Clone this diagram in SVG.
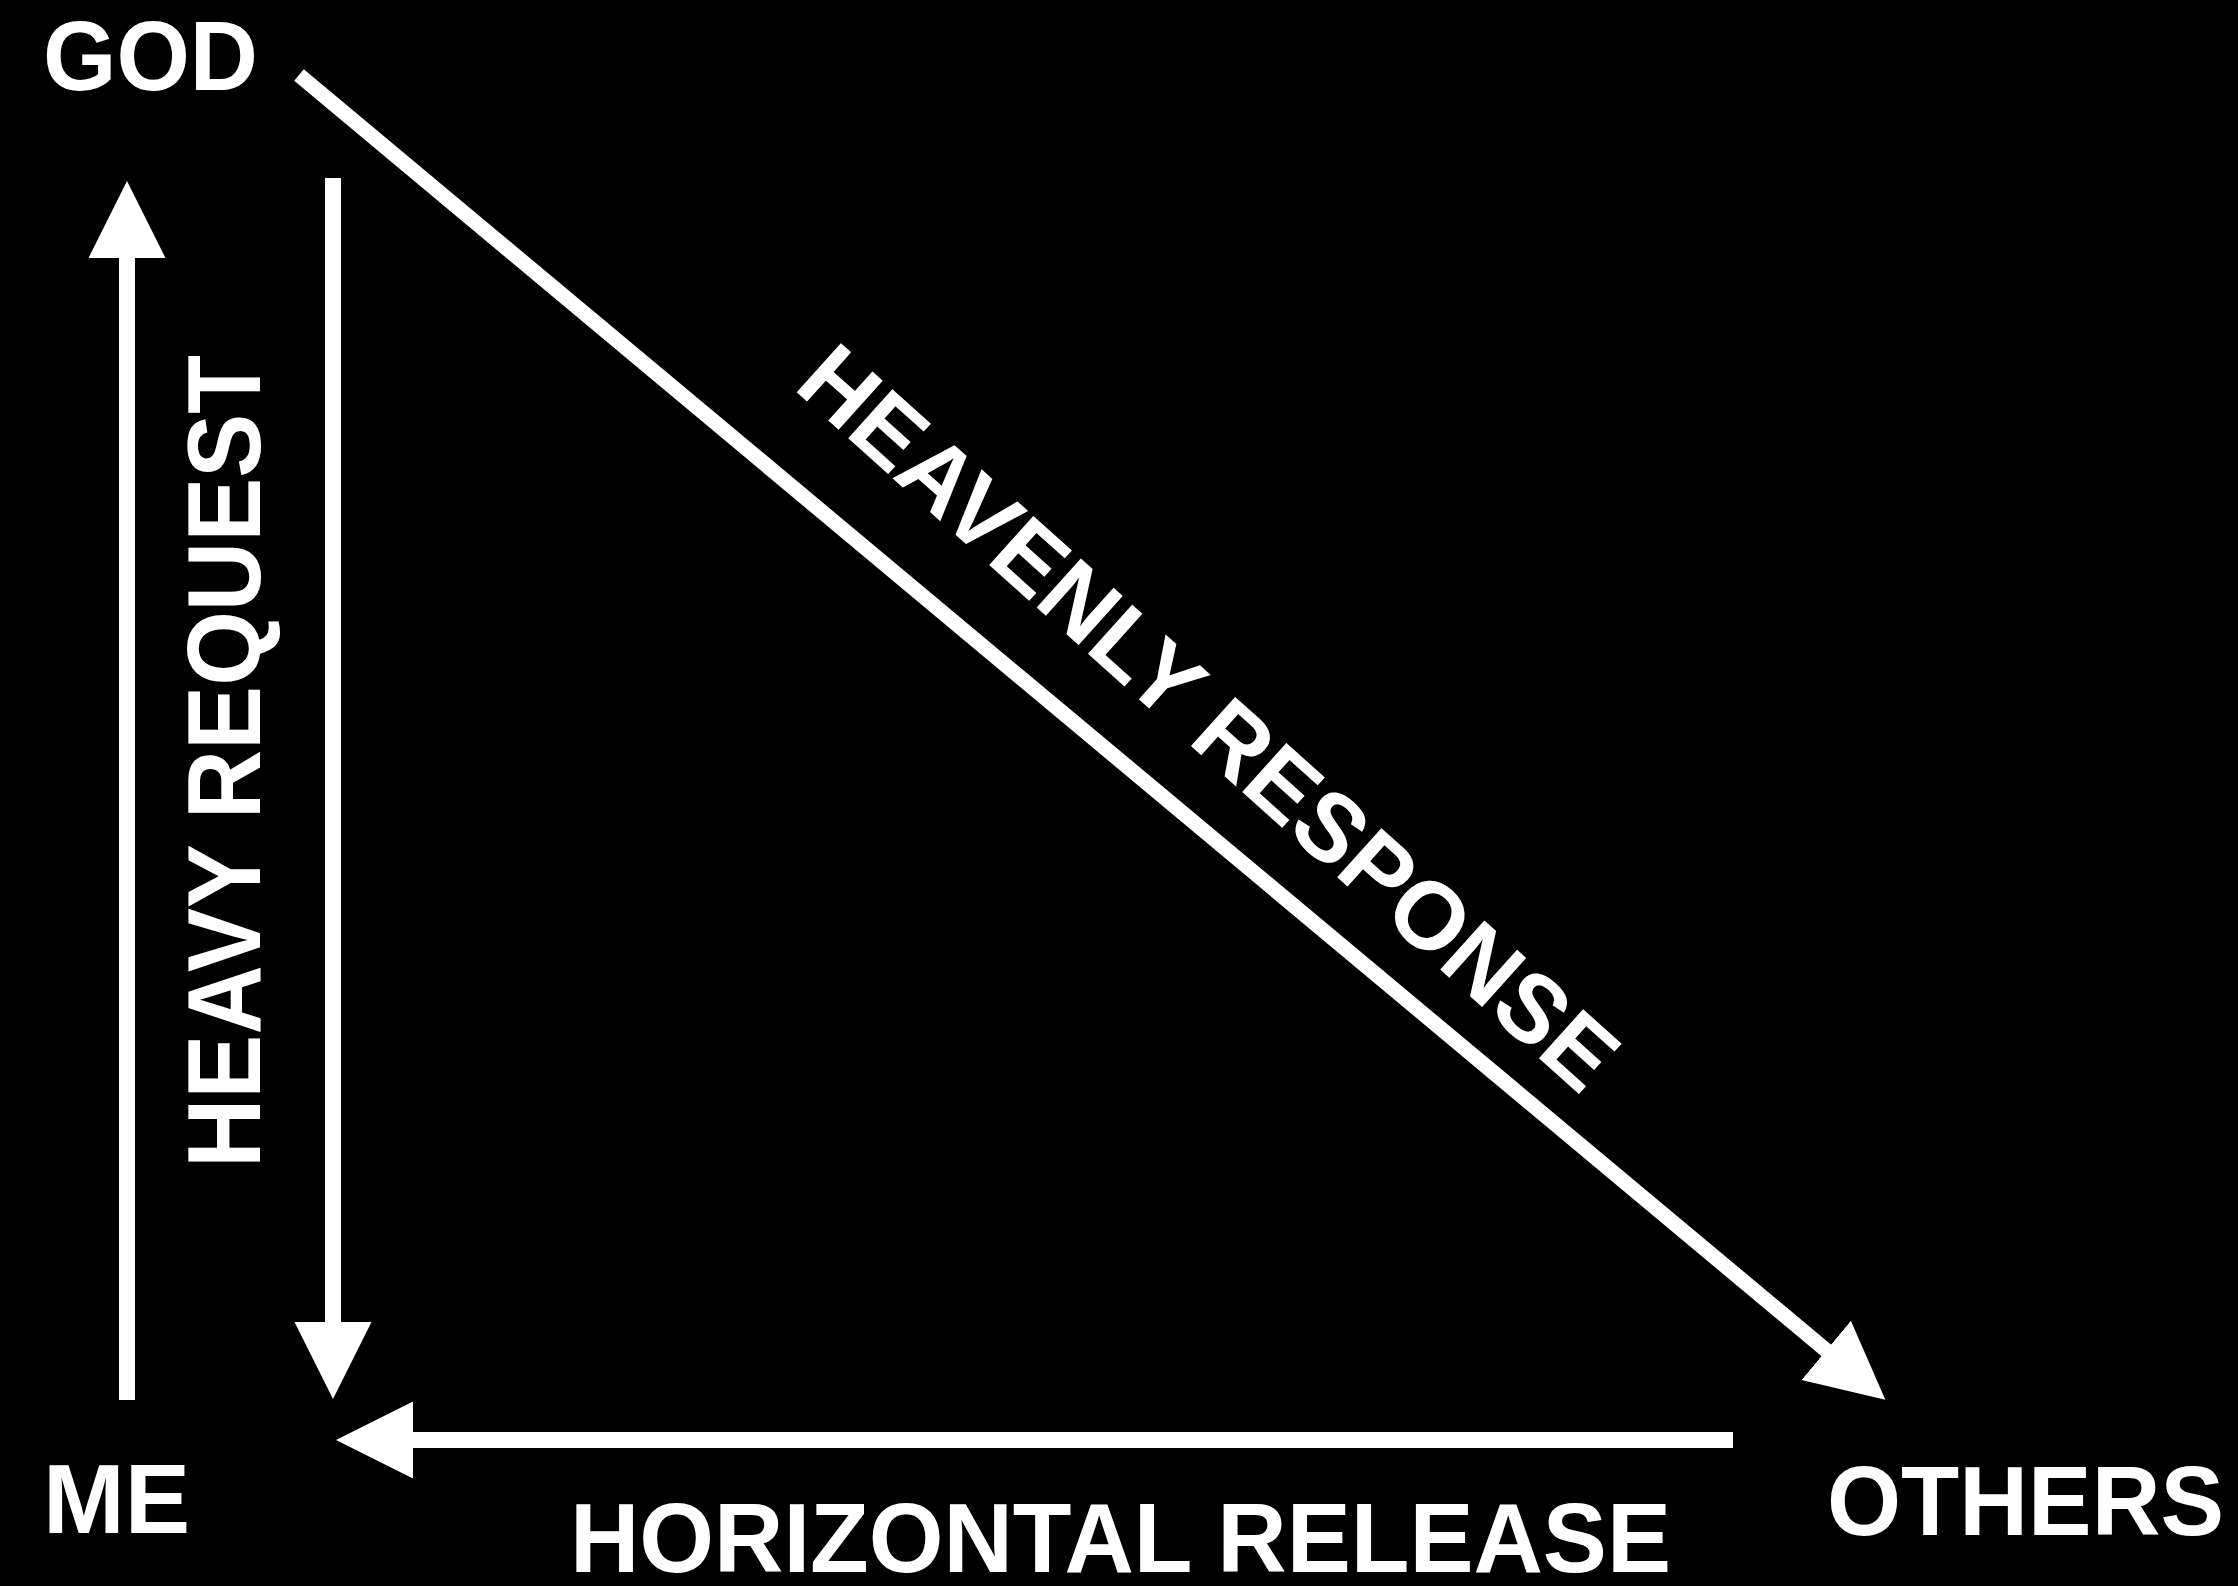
<svg xmlns="http://www.w3.org/2000/svg" width="2238" height="1586" viewBox="0 0 2238 1586">
  <style>
    .lbl { font-family: "Liberation Sans", Arial, Helvetica, sans-serif; font-weight: bold; fill: #ffffff; }
    .conn { stroke: #ffffff; stroke-width: 16; fill: none; stroke-linecap: butt; }
  </style>
  <defs>
    <marker id="head" markerUnits="userSpaceOnUse" markerWidth="78" markerHeight="78" refX="1" refY="38.5" orient="auto" viewBox="0 0 78 78">
      <path d="M0,0 L77,38.5 L0,77 Z" fill="#ffffff"/>
    </marker>
  </defs>
  <rect x="0" y="0" width="2238" height="1586" fill="#000000"/>

  <g id="connectors">
    <line id="heavy-request-up" class="conn" x1="127" y1="1400" x2="127" y2="257" marker-end="url(#head)"/>
    <line id="heavy-request-down" class="conn" x1="333" y1="178" x2="333" y2="1323" marker-end="url(#head)"/>
    <line id="heavenly-response" class="conn" style="stroke-width:15" x1="299" y1="75" x2="1827" y2="1351" marker-end="url(#head)"/>
    <line id="horizontal-release" class="conn" x1="1733" y1="1440" x2="412" y2="1440" marker-end="url(#head)"/>
  </g>

  <g id="node-god">
    <text class="lbl" x="43" y="90" font-size="98" textLength="215" lengthAdjust="spacingAndGlyphs">GOD</text>
  </g>
  <g id="node-me">
    <text class="lbl" x="43" y="1533" font-size="98" textLength="147" lengthAdjust="spacingAndGlyphs">ME</text>
  </g>
  <g id="node-others">
    <text class="lbl" x="1827" y="1535" font-size="98" textLength="397" lengthAdjust="spacingAndGlyphs">OTHERS</text>
  </g>

  <g id="labels">
    <text class="lbl" transform="translate(260,1168) rotate(-90)" x="0" y="0" font-size="103" textLength="813" lengthAdjust="spacingAndGlyphs">HEAVY REQUEST</text>
    <text class="lbl" transform="translate(792,388) rotate(41.9)" x="0" y="0" font-size="96" textLength="1061" lengthAdjust="spacingAndGlyphs">HEAVENLY RESPONSE</text>
    <text class="lbl" x="570" y="1572" font-size="98" textLength="1101" lengthAdjust="spacingAndGlyphs">HORIZONTAL RELEASE</text>
  </g>
</svg>
